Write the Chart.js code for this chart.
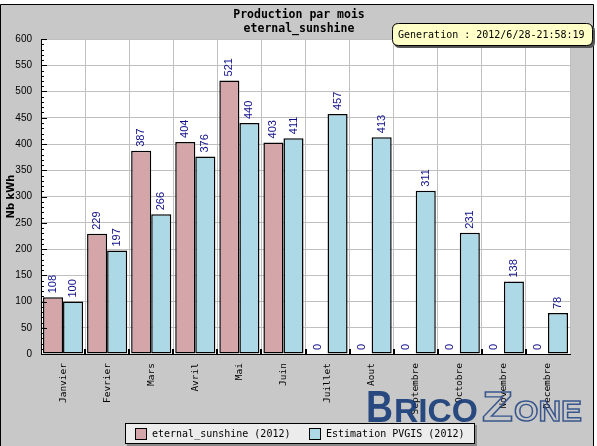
<!DOCTYPE html>
<html>
<head>
<meta charset="utf-8">
<script src="https://cdn.jsdelivr.net/npm/chart.js@4.4.1/dist/chart.umd.min.js"></script>
<style>
  html, body { margin: 0; padding: 0; background: #fff; }
  #wrap { position: relative; width: 597px; height: 446px; }
</style>
</head>
<body>
<div id="wrap"><canvas id="chart" width="597" height="446"></canvas></div>
<script>
// data
const months = ['Janvier', 'Fevrier', 'Mars', 'Avril', 'Mai', 'Juin',
                'Juillet', 'Aout', 'Septembre', 'Octobre', 'Novembre', 'Decembre'];
const production2012 = [108, 229, 387, 404, 521, 403, 0, 0, 0, 0, 0, 0];
const pvgis2012 = [100, 197, 266, 376, 440, 411, 457, 413, 311, 231, 138, 78];
const yMin = 0;
const yMax = 600;
const yStep = 50;
const yMinorStep = 10;
const chartTitle = ['Production par mois', 'eternal_sunshine'];
const generationText = 'Generation : 2012/6/28-21:58:19';

const PINK = '#d4a6a9';
const BLUE = '#add8e6';
const NAVY = '#10108a';
const MONO = '"DejaVu Sans Mono", monospace';

function roundRect(ctx, x, y, w, h, r) {
    ctx.beginPath();
    ctx.moveTo(x + r, y);
    ctx.lineTo(x + w - r, y);
    ctx.quadraticCurveTo(x + w, y, x + w, y + r);
    ctx.lineTo(x + w, y + h - r);
    ctx.quadraticCurveTo(x + w, y + h, x + w - r, y + h);
    ctx.lineTo(x + r, y + h);
    ctx.quadraticCurveTo(x, y + h, x, y + h - r);
    ctx.lineTo(x, y + r);
    ctx.quadraticCurveTo(x, y, x + r, y);
    ctx.closePath();
}

// text squeezed into a box (for the watermark)
function fitText(ctx, text, x, top, bottom, width, stroke) {
    const size = (bottom - top) / 0.72;
    ctx.font = 'bold ' + size + 'px "Liberation Sans", sans-serif';
    const w = ctx.measureText(text).width;
    ctx.save();
    ctx.translate(x, bottom);
    ctx.scale(width / w, 1);
    ctx.textBaseline = 'alphabetic';
    ctx.textAlign = 'left';
    if (stroke) {
        ctx.lineWidth = 1.4;
        ctx.strokeText(text, 0, 0);
    } else {
        ctx.fillText(text, 0, 0);
    }
    ctx.restore();
}

const framePlugin = {
    id: 'frame',
    beforeDraw(chart) {
        const { ctx, chartArea: a } = chart;
        ctx.save();
        ctx.fillStyle = '#fff';
        ctx.fillRect(0, 0, chart.width, chart.height);
        ctx.fillStyle = '#c8c8c8';
        ctx.fillRect(0, 4, 594, 442);
        ctx.strokeStyle = '#000';
        ctx.lineWidth = 1;
        ctx.beginPath();
        ctx.moveTo(0.5, 446);
        ctx.lineTo(0.5, 4.5);
        ctx.lineTo(593.5, 4.5);
        ctx.lineTo(593.5, 446);
        ctx.stroke();
        ctx.fillStyle = '#fff';
        ctx.fillRect(a.left, a.top, a.right - a.left, a.bottom - a.top);
        ctx.restore();
    },
    afterDatasetsDraw(chart) {
        const ctx = chart.ctx;
        ctx.save();
        ctx.fillStyle = NAVY;
        ctx.font = '11px "Liberation Sans", sans-serif';
        ctx.textAlign = 'left';
        ctx.textBaseline = 'middle';
        chart.data.datasets.forEach((ds, di) => {
            chart.getDatasetMeta(di).data.forEach((bar, i) => {
                ctx.save();
                ctx.translate(bar.x, bar.y - 4);
                ctx.rotate(-Math.PI / 2);
                ctx.fillText(String(ds.data[i]), 0, 0);
                ctx.restore();
            });
        });
        ctx.restore();
    },
    afterDraw(chart) {
        const { ctx, chartArea: a } = chart;
        const xs = chart.scales.x;
        const ys = chart.scales.y;
        ctx.save();

        // minor / major ticks inside the plot on the y axis
        ctx.strokeStyle = '#000';
        ctx.lineWidth = 1;
        ctx.beginPath();
        for (let v = yMin; v <= yMax; v += yMinorStep) {
            const y = Math.round(ys.getPixelForValue(v)) + 0.5;
            const len = v % yStep === 0 ? 6 : 3;
            ctx.moveTo(a.left, y);
            ctx.lineTo(a.left + len, y);
        }
        ctx.stroke();

        // small marks between categories on the x axis
        ctx.lineWidth = 2;
        ctx.beginPath();
        for (let i = 1; i < months.length; i++) {
            const x = Math.round((xs.getPixelForValue(i - 1) + xs.getPixelForValue(i)) / 2);
            ctx.moveTo(x, a.bottom);
            ctx.lineTo(x, a.bottom - 5);
        }
        ctx.stroke();

        // forum watermark (sits under the legend)
        ctx.save();
        ctx.globalAlpha = 0.9;
        ctx.fillStyle = '#163a78';
        ctx.strokeStyle = '#2a4a86';
        fitText(ctx, 'B', 366, 390, 422, 27, false);
        fitText(ctx, 'RICO', 394, 398, 422, 84, false);
        fitText(ctx, 'Z', 482, 390, 421, 31, true);
        fitText(ctx, 'ONE', 514, 400, 421, 68, true);
        ctx.restore();

        // title
        ctx.fillStyle = '#000';
        ctx.font = 'bold 11.5px ' + MONO;
        ctx.textAlign = 'center';
        ctx.textBaseline = 'middle';
        ctx.fillText(chartTitle[0], 299, 15);
        ctx.fillText(chartTitle[1], 299, 29);

        // generation box
        ctx.fillStyle = '#555';
        roundRect(ctx, 394, 25, 201, 23, 6);
        ctx.fill();
        ctx.fillStyle = '#ffffc8';
        ctx.strokeStyle = '#000';
        ctx.lineWidth = 1;
        roundRect(ctx, 392.5, 23.5, 200, 22, 6);
        ctx.fill();
        ctx.stroke();
        ctx.fillStyle = '#000';
        ctx.font = '10px ' + MONO;
        ctx.textAlign = 'left';
        ctx.fillText(generationText, 398, 35);

        // legend
        ctx.fillStyle = '#8a8a8a';
        ctx.fillRect(127, 425, 350, 21);
        ctx.fillStyle = '#ececec';
        ctx.fillRect(125.5, 423.5, 349, 20);
        ctx.strokeRect(125.5, 423.5, 349, 20);
        const items = [[135, 152], [309, 326]];
        ctx.font = '10px ' + MONO;
        chart.data.datasets.forEach((ds, di) => {
            const [bx, tx] = items[di];
            ctx.fillStyle = ds.backgroundColor;
            ctx.fillRect(bx + 0.5, 428.5, 11, 11);
            ctx.strokeRect(bx + 0.5, 428.5, 11, 11);
            ctx.fillStyle = '#000';
            ctx.fillText(ds.label, tx, 434);
        });
        ctx.restore();
    }
};

new Chart(document.getElementById('chart'), {
    type: 'bar',
    data: {
        labels: months,
        datasets: [
            {
                label: 'eternal_sunshine (2012)',
                data: production2012,
                backgroundColor: PINK,
                borderColor: '#000',
                borderWidth: 1.5,
                borderSkipped: false,
                barPercentage: 1,
                categoryPercentage: 0.91
            },
            {
                label: 'Estimation PVGIS (2012)',
                data: pvgis2012,
                backgroundColor: BLUE,
                borderColor: '#000',
                borderWidth: 1.5,
                borderSkipped: false,
                barPercentage: 1,
                categoryPercentage: 0.91
            }
        ]
    },
    options: {
        responsive: false,
        animation: false,
        layout: { padding: { top: 39, right: 27, bottom: 0, left: 0 } },
        plugins: {
            legend: { display: false },
            tooltip: { enabled: false }
        },
        scales: {
            x: {
                grid: { color: '#c0c0c0', drawTicks: false, offset: true },
                border: { color: '#000', width: 1 },
                ticks: {
                    color: '#000',
                    font: { family: MONO, size: 9.5 },
                    minRotation: 90,
                    maxRotation: 90,
                    padding: 9,
                    autoSkip: false
                },
                afterFit(s) { s.height = 92; }
            },
            y: {
                min: yMin,
                max: yMax,
                grid: { color: '#c0c0c0', drawTicks: false },
                border: { color: '#000', width: 1 },
                ticks: {
                    stepSize: yStep,
                    color: '#000',
                    font: { family: '"Liberation Sans", sans-serif', size: 10 },
                    padding: 9
                },
                title: {
                    display: true,
                    text: 'Nb kWh',
                    color: '#000',
                    font: { family: '"DejaVu Sans", sans-serif', size: 10, weight: 'bold' },
                    padding: { top: 5, bottom: 0 }
                },
                afterFit(s) { s.width = 41; }
            }
        }
    },
    plugins: [framePlugin]
});
</script>
</body>
</html>
